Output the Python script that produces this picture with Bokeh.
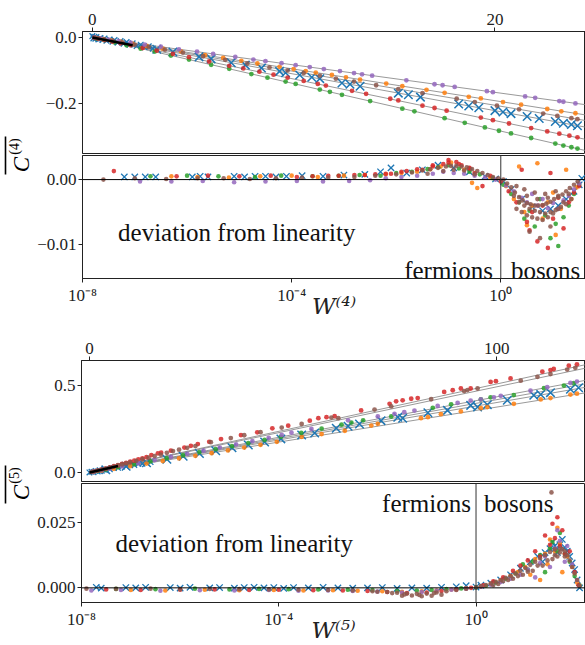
import math
from bokeh.plotting import figure
from bokeh.layouts import column, row
from bokeh.models import Range1d, FixedTicker, CustomJSTickFormatter, Span, Label
from bokeh.embed import file_html
from bokeh.resources import INLINE

FONT = "Liberation Serif"
BLUE, ORANGE, GREEN, RED, PURPLE, BROWN = "#1f77b4", "#ff7f0e", "#2ca02c", "#d62728", "#9467bd", "#8c564b"

# ---------------- chart (4): top, linear W ----------------
W4_BLUE = [3.2, 4.0, 5.3, 5.9, 6.9, 7.6, 8.4, 9.3, 9.6, 10.3, 10.9, 11.3, 12.4, 12.8, 13.3, 15.2, 15.7, 16.3, 18.2, 18.7, 19.2, 20.0, 20.4, 20.8, 21.6, 22.2, 23.0, 23.4, 23.8, 24.1]
C4_BLUE = [-0.036, -0.044, -0.059, -0.065, -0.077, -0.084, -0.093, -0.103, -0.107, -0.114, -0.121, -0.125, -0.138, -0.142, -0.148, -0.169, -0.174, -0.181, -0.202, -0.208, -0.213, -0.222, -0.226, -0.231, -0.240, -0.246, -0.255, -0.260, -0.264, -0.268]
W4_BLUE_S = [0.0, 0.05, 0.1, 0.15, 0.2, 0.3, 0.4, 0.5, 0.6, 0.7, 0.85, 1.0, 1.1, 1.25, 1.4, 1.55, 1.7, 1.85, 2.0, 2.2, 2.4, 2.6, 2.8, 3.0]
C4_BLUE_S = [0.004, -0.003, 0.002, -0.004, 0.001, -0.006, -0.002, -0.008, -0.003, -0.010, -0.006, -0.013, -0.008, -0.016, -0.011, -0.019, -0.014, -0.022, -0.018, -0.026, -0.022, -0.030, -0.027, -0.034]
W4_ORANGE = [0.2, 0.5, 0.9, 1.4, 2.0, 2.7, 3.5, 4.4, 5.6, 6.5, 7.4, 8.2, 9.3, 10.0, 10.6, 11.1, 11.9, 12.6, 13.3, 14.6, 15.4, 16.6, 17.5, 18.7, 19.3, 20.4, 21.3, 22.6, 23.3, 24.0]
C4_ORANGE = [-0.002, -0.005, -0.009, -0.013, -0.019, -0.026, -0.034, -0.042, -0.054, -0.062, -0.071, -0.079, -0.089, -0.096, -0.102, -0.107, -0.114, -0.121, -0.128, -0.140, -0.148, -0.159, -0.168, -0.180, -0.185, -0.196, -0.204, -0.217, -0.224, -0.230]
W4_GREEN = [0.2, 0.6, 1.1, 1.7, 2.4, 3.1, 3.9, 4.8, 5.9, 6.8, 7.9, 8.7, 9.6, 10.1, 11.3, 11.8, 12.4, 13.8, 15.4, 16.0, 17.5, 18.5, 19.5, 20.2, 20.8, 21.8, 23.0, 23.4, 23.8, 24.1]
C4_GREEN = [-0.003, -0.008, -0.015, -0.024, -0.034, -0.043, -0.055, -0.067, -0.083, -0.095, -0.111, -0.122, -0.134, -0.141, -0.158, -0.165, -0.174, -0.193, -0.216, -0.224, -0.245, -0.259, -0.273, -0.283, -0.291, -0.305, -0.322, -0.328, -0.333, -0.337]
W4_RED = [0.1, 0.3, 0.6, 1.0, 1.4, 1.9, 2.5, 3.2, 4.0, 4.8, 5.8, 6.8, 7.5, 8.3, 9.0, 9.7, 10.5, 11.2, 11.6, 12.9, 13.6, 14.8, 15.2, 16.4, 17.0, 17.6, 19.3, 19.9, 20.7, 21.8, 22.6, 23.2, 23.7, 24.1]
C4_RED = [-0.001, -0.004, -0.008, -0.013, -0.018, -0.024, -0.032, -0.040, -0.050, -0.060, -0.073, -0.086, -0.094, -0.104, -0.113, -0.122, -0.132, -0.141, -0.146, -0.162, -0.171, -0.186, -0.191, -0.207, -0.214, -0.222, -0.243, -0.251, -0.261, -0.275, -0.285, -0.292, -0.298, -0.303]
W4_PURPLE = [0.1, 0.4, 0.8, 1.3, 1.9, 2.6, 3.4, 4.3, 5.2, 6.0, 7.1, 8.0, 8.6, 9.4, 10.1, 10.8, 11.5, 12.3, 13.0, 13.4, 13.9, 15.6, 17.0, 17.4, 18.0, 19.6, 19.9, 21.5, 22.0, 23.2, 23.4, 24.0]
C4_PURPLE = [-0.001, -0.003, -0.007, -0.011, -0.016, -0.022, -0.028, -0.036, -0.043, -0.050, -0.059, -0.067, -0.072, -0.078, -0.084, -0.090, -0.096, -0.102, -0.108, -0.112, -0.116, -0.130, -0.142, -0.145, -0.150, -0.163, -0.166, -0.179, -0.183, -0.193, -0.195, -0.200]
W4_BROWN = [0.1, 0.3, 0.6, 1.0, 1.5, 2.1, 2.8, 3.6, 4.5, 5.5, 6.6, 7.7, 8.8, 9.7, 10.5, 11.3, 12.1, 13.0, 14.1, 15.2, 16.4, 18.1, 19.0, 20.1, 21.2, 22.4, 23.1, 23.8, 24.1]
C4_BROWN = [-0.001, -0.003, -0.006, -0.010, -0.015, -0.022, -0.029, -0.037, -0.046, -0.057, -0.068, -0.079, -0.091, -0.100, -0.108, -0.116, -0.125, -0.134, -0.145, -0.157, -0.169, -0.186, -0.196, -0.207, -0.218, -0.231, -0.238, -0.245, -0.248]
FIT4_W = [0.0, 24.5]
FIT4_ENDS = [-0.204, -0.235, -0.252, -0.272, -0.309, -0.343]
BLACK4_W = [0.0, 2.0]
BLACK4_C = [0.0, -0.024]

# ---------------- chart (4): bottom, log10 W and deviation ----------------
E4_BLUE = [-7.2, -7.0, -6.8, -6.6, -5.9, -5.75, -5.6, -5.1, -4.9, -4.7, -4.5, -4.3, -4.1, -3.8, -3.4, -3.0, -2.6, -2.3, -2.1, -1.8, -1.5, -1.2, -0.9, -0.6, -0.3, -0.1, 0.05, 0.2, 0.4, 0.6, 0.8, 0.95, 1.1, 1.25, 1.4, 1.5, 1.55]
D4_BLUE = [0.0004, 0.0004, 0.0004, 0.0004, 0.0004, 0.0005, 0.0004, 0.0005, 0.0004, 0.0005, 0.0005, 0.0004, 0.0005, 0.0006, 0.0005, 0.0007, 0.0008, 0.0012, 0.0018, 0.0010, 0.0015, 0.0022, 0.0018, 0.0012, 0.0005, 0.0001, -0.0003, -0.0015, -0.0030, -0.0042, -0.0048, -0.0045, -0.0040, -0.0030, -0.0018, -0.0008, 0.0002]
E4_ORANGE = [-6.3, -5.8, -5.2, -4.6, -4.0, -3.5, -3.0, -2.6, -2.2, -1.9, -1.6, -1.35, -1.15, -0.95, -0.7, -0.55, -0.45, -0.2, 0.1, 0.25, 0.35, 0.45, 0.5, 0.6, 0.7, 0.8, 0.9, 1.0, 1.05, 1.15, 1.25, 1.35, 1.45]
D4_ORANGE = [0.0005, 0.0004, 0.0003, 0.0005, 0.0006, 0.0004, 0.0006, 0.0007, 0.0008, 0.0010, 0.0012, 0.0016, 0.0020, 0.0026, 0.0015, -0.0005, -0.0013, 0.0003, -0.0010, -0.0030, 0.0020, -0.0050, -0.0070, -0.0040, 0.0025, -0.0060, -0.0035, -0.0020, -0.0085, -0.0045, 0.0015, -0.0030, -0.0012]
E4_GREEN = [-6.7, -6.0, -5.4, -4.7, -4.2, -3.6, -3.1, -2.7, -2.3, -2.0, -1.7, -1.4, -1.2, -1.0, -0.8, -0.6, -0.4, -0.15, 0.05, 0.2, 0.35, 0.45, 0.55, 0.65, 0.75, 0.85, 0.95, 1.05, 1.1, 1.2, 1.3, 1.4, 1.5]
D4_GREEN = [0.0005, 0.0006, 0.0005, 0.0004, 0.0006, 0.0005, 0.0006, 0.0007, 0.0006, 0.0010, 0.0012, 0.0016, 0.0019, 0.0022, 0.0017, 0.0012, 0.0008, 0.0002, -0.0008, -0.0022, -0.0035, -0.0060, -0.0048, -0.0072, -0.0030, -0.0055, -0.0090, -0.0068, -0.0102, -0.0058, -0.0040, -0.0022, -0.0008]
E4_RED = [-7.4, -6.2, -5.6, -5.0, -4.4, -3.9, -3.3, -2.8, -2.4, -2.1, -1.8, -1.5, -1.3, -1.1, -1.0, -0.85, -0.75, -0.6, -0.5, -0.35, -0.2, 0.0, 0.15, 0.3, 0.4, 0.5, 0.55, 0.6, 0.7, 0.8, 0.9, 0.95, 1.0, 1.1, 1.2, 1.3, 1.4, 1.5,
          -3.6, -3.1, -2.6, -2.2, -1.9, -1.6, -1.3, -1.0, -0.8, -0.6]
D4_RED = [0.0013, 0.0005, 0.0006, 0.0005, 0.0006, 0.0004, 0.0006, 0.0007, 0.0008, 0.0009, 0.0013, 0.0015, 0.0020, 0.0024, 0.0030, 0.0027, 0.0022, 0.0018, 0.0010, -0.0010, 0.0006, -0.0003, -0.0018, -0.0035, 0.0015, -0.0065, -0.0078, -0.0050, -0.0095, -0.0040, -0.0105, 0.0010, -0.0060, -0.0028, -0.0075, -0.0035, -0.0020, -0.0010,
          0.0005, 0.0006, 0.0007, 0.0009, 0.0012, 0.0016, 0.0022, 0.0026, 0.0024, 0.0017]
E4_PURPLE = [-6.9, -6.3, -5.7, -5.1, -4.5, -3.9, -3.4, -2.9, -2.5, -2.2, -1.9, -1.6, -1.3, -1.1, -0.9, -0.7, -0.5, -0.3, -0.1, 0.1, 0.25, 0.4, 0.5, 0.6, 0.7, 0.8, 0.9, 1.0, 1.1, 1.2, 1.3, 1.4, 1.5]
D4_PURPLE = [-0.0003, -0.0003, -0.0002, -0.0004, -0.0003, -0.0002, -0.0003, -0.0002, -0.0001, 0.0002, 0.0004, 0.0006, 0.0009, 0.0012, 0.0010, 0.0009, 0.0006, 0.0003, 0.0000, -0.0009, -0.0018, -0.0028, -0.0035, -0.0022, -0.0040, -0.0030, -0.0044, -0.0036, -0.0045, -0.0032, -0.0025, -0.0015, -0.0006]
E4_BROWN = [-7.6, -7.0, -6.4, -5.8, -5.3, -4.8, -4.3, -3.8, -3.3, -2.8, -2.4, -2.0, -1.7, -1.5, -1.35, -1.2, -1.05, -0.95, -0.85, -0.75, -0.65, -0.55, -0.45, -0.35, -0.25, -0.15, -0.05, 0.05, 0.12, 0.2, 0.27, 0.35, 0.42, 0.5, 0.57, 0.65, 0.72, 0.8, 0.87, 0.95, 1.02, 1.1, 1.18, 1.25, 1.32, 1.4, 1.47,
            -1.4, -1.1, -0.9, -0.7, -0.5, 0.3, 0.4, 0.5, 0.6, 0.7, 0.8, 0.9, 1.0, 1.1, 1.2, 0.45, 0.65, 0.85, 1.05, 0.55, 0.75, 0.95,
            0.25, 0.35, 0.45, 0.55, 0.65, 0.75, 0.85, 0.95, 1.05, 1.15, 1.25, 1.35, 0.3, 0.5, 0.7, 0.9, 1.1, 1.3]
D4_BROWN = [0.0000, 0.0002, 0.0001, 0.0002, 0.0002, 0.0001, 0.0002, 0.0003, 0.0003, 0.0004, 0.0006, 0.0008, 0.0011, 0.0014, 0.0016, 0.0018, 0.0020, 0.0021, 0.0021, 0.0020, 0.0019, 0.0016, 0.0013, 0.0010, 0.0007, 0.0004, 0.0002, 0.0000, -0.0006, -0.0012, -0.0020, -0.0027, -0.0032, -0.0036, -0.0038, -0.0040, -0.0040, -0.0039, -0.0037, -0.0034, -0.0030, -0.0027, -0.0023, -0.0018, -0.0013, -0.0008, -0.0003,
            0.0009, 0.0013, 0.0015, 0.0014, 0.0008, -0.0045, -0.0050, -0.0055, -0.0058, -0.0060, -0.0062, -0.0058, -0.0052, -0.0045, -0.0035, -0.0015, -0.0020, -0.0022, -0.0018, -0.0080, -0.0090, -0.0072,
            -0.0025, -0.0035, -0.0040, -0.0045, -0.0048, -0.0050, -0.0052, -0.0050, -0.0047, -0.0042, -0.0038, -0.0030, -0.0010, -0.0025, -0.0030, -0.0028, -0.0025, -0.0022]

# ---------------- chart (5): top, linear W ----------------
W5_BLUE = [4, 9, 14, 19, 23, 27, 31, 35, 39, 43, 47, 52.1, 55.3, 60.6, 63.5, 66.3, 71.6, 75.7, 76.9, 83.1, 87.9, 93.6, 95.3, 97.7, 102.6, 109.1, 110.8, 113.2, 118.1, 120.1]
C5_BLUE = [0.015, 0.036, 0.056, 0.076, 0.093, 0.109, 0.125, 0.142, 0.158, 0.175, 0.193, 0.215, 0.227, 0.254, 0.266, 0.279, 0.298, 0.318, 0.312, 0.343, 0.357, 0.386, 0.376, 0.390, 0.415, 0.444, 0.448, 0.459, 0.479, 0.487]
W5_BLUE_S = [0, 0.5, 1, 1.5, 2, 2.5, 3, 3.5, 4, 5, 6, 7, 8, 9, 10, 11, 12, 13, 14, 15]
C5_BLUE_S = [0.000, 0.004, 0.002, 0.008, 0.006, 0.012, 0.010, 0.016, 0.014, 0.018, 0.026, 0.027, 0.034, 0.035, 0.042, 0.043, 0.050, 0.051, 0.057, 0.060]
W5_ORANGE = [1, 3, 6, 10, 14, 18, 22, 26, 30, 34, 38, 42, 46, 52.1, 57.0, 62.7, 69.2, 70.8, 81.4, 83.1, 86.3, 91.2, 96.1, 97.7, 104.2, 110.8, 113.2, 118.1, 119.7]
C5_ORANGE = [0.003, 0.010, 0.021, 0.036, 0.051, 0.066, 0.081, 0.096, 0.111, 0.127, 0.143, 0.159, 0.176, 0.205, 0.221, 0.240, 0.270, 0.280, 0.312, 0.318, 0.335, 0.351, 0.370, 0.376, 0.395, 0.420, 0.428, 0.448, 0.453]
W5_GREEN = [2, 4, 7, 11, 15, 19, 23, 27, 31, 35, 39, 43, 47, 52, 57, 61.9, 64.3, 67.2, 74.1, 84.3, 88.8, 96.1, 98.5, 104.2, 111.6, 116.5, 118.9]
C5_GREEN = [0.008, 0.017, 0.030, 0.047, 0.064, 0.082, 0.099, 0.117, 0.134, 0.151, 0.169, 0.187, 0.205, 0.228, 0.252, 0.275, 0.287, 0.300, 0.322, 0.372, 0.392, 0.420, 0.432, 0.445, 0.485, 0.500, 0.513]
W5_RED = [1, 2, 3, 4, 5, 6, 7, 8, 9, 10, 11, 12, 13, 14, 15.2, 16.8, 17.6, 20, 23.3, 24.9, 26.6, 29.4, 32.3, 37.2, 41.2, 44.9, 48.8, 54.1, 56.2, 58.2, 60.2, 66.7, 73.7, 75.3, 76.9, 79.0, 80.6, 87.1, 89.2, 91.2, 93.6, 98.5, 99.8, 103.4, 111.2, 113.2, 114.0, 117.7, 119.7]
C5_RED = [0.005, 0.011, 0.016, 0.022, 0.029, 0.036, 0.042, 0.049, 0.055, 0.062, 0.068, 0.075, 0.081, 0.088, 0.100, 0.110, 0.114, 0.125, 0.143, 0.153, 0.163, 0.176, 0.192, 0.215, 0.231, 0.254, 0.269, 0.298, 0.312, 0.318, 0.324, 0.357, 0.395, 0.409, 0.415, 0.424, 0.428, 0.463, 0.473, 0.483, 0.483, 0.521, 0.525, 0.541, 0.580, 0.589, 0.595, 0.614, 0.622]
W5_PURPLE = [1, 3, 5, 8, 12, 16, 20, 24, 28, 32, 36, 40, 44, 47.2, 49.6, 54.5, 63.5, 70.8, 74.9, 77.3, 79.8, 85.5, 90.4, 93.6, 96.1, 99.3, 101.0, 108.3, 112.4, 118.1, 119.7]
C5_PURPLE = [0.004, 0.013, 0.022, 0.035, 0.053, 0.071, 0.089, 0.107, 0.125, 0.143, 0.161, 0.180, 0.199, 0.216, 0.229, 0.250, 0.300, 0.322, 0.337, 0.347, 0.356, 0.383, 0.400, 0.413, 0.420, 0.432, 0.441, 0.470, 0.490, 0.515, 0.523]
W5_BROWN = [0.5, 1, 2, 3, 4, 5, 6, 7, 8, 9, 10, 11.5, 13, 14.5, 16, 17.5, 19, 20.5, 22, 24, 26, 29.8, 34.7, 38, 42, 47.2, 52.1, 59.4, 61.1, 70.0, 74.1, 83.9, 92.0, 92.8, 95.3, 105.9, 110.0, 113.2, 117.3, 119.3]
C5_BROWN = [0.002, 0.005, 0.011, 0.016, 0.022, 0.028, 0.034, 0.040, 0.046, 0.052, 0.058, 0.067, 0.076, 0.085, 0.094, 0.103, 0.113, 0.123, 0.131, 0.142, 0.152, 0.174, 0.198, 0.214, 0.232, 0.258, 0.279, 0.316, 0.312, 0.362, 0.380, 0.421, 0.468, 0.474, 0.483, 0.528, 0.550, 0.566, 0.592, 0.602]
FIT5_W = [0.0, 121.8]
FIT5_ENDS = [0.620, 0.600, 0.530, 0.510, 0.490, 0.458]
BLACK5_W = [0.0, 7.0]
BLACK5_C = [0.0, 0.037]

# ---------------- chart (5): bottom, log10 W and deviation ----------------
E5_BLUE = [-7.7, -7.6, -7.1, -6.9, -6.7, -6.2, -6.0, -5.8, -5.4, -5.2, -4.9, -4.7, -4.5, -4.3, -4.1, -3.9, -3.7, -3.4, -3.1, -2.8, -2.5, -2.2, -1.9, -1.6, -1.3, -1.0, -0.7, -0.4, -0.2, 0.0, 0.1, 0.3, 0.5, 0.7, 0.9, 1.1, 1.25, 1.4, 1.5, 1.6, 1.7, 1.8, 1.9, 2.0, 2.05, 2.1,
           1.35, 1.55, 1.65, 1.75, 1.85, 1.95]
D5_BLUE = [0.0002, -0.0001, 0.0001, 0.0000, 0.0002, 0.0001, -0.0001, 0.0002, 0.0000, 0.0001, -0.0001, 0.0001, 0.0002, 0.0000, 0.0001, -0.0002, 0.0001, 0.0000, 0.0002, 0.0000, -0.0001, 0.0000, 0.0001, -0.0002, 0.0000, -0.0001, 0.0002, 0.0004, 0.0008, 0.0003, 0.0010, 0.0018, 0.0030, 0.0050, 0.0075, 0.0100, 0.0120, 0.0135, 0.0150, 0.0160, 0.0165, 0.0155, 0.0120, 0.0070, 0.0030, 0.0000,
           0.0100, 0.0175, 0.0135, 0.0185, 0.0140, 0.0095]
E5_ORANGE = [-7.0, -6.3, -5.5, -4.8, -4.1, -3.5, -2.9, -2.4, -1.9, -1.5, -1.1, -0.8, -0.5, -0.2, 0.1, 0.3, 0.5, 0.7, 0.85, 1.0, 1.1, 1.2, 1.3, 1.4, 1.45, 1.5, 1.6, 1.65, 1.7, 1.75, 1.85, 1.95, 2.05]
D5_ORANGE = [-0.0008, -0.0010, -0.0007, -0.0009, -0.0008, -0.0010, -0.0009, -0.0011, -0.0013, -0.0015, -0.0013, -0.0010, -0.0006, -0.0002, 0.0006, 0.0015, 0.0028, 0.0045, 0.0060, 0.0080, 0.0050, 0.0110, 0.0030, 0.0130, 0.0090, 0.0185, 0.0140, 0.0230, 0.0170, 0.0060, 0.0120, 0.0080, 0.0020]
E5_GREEN = [-7.3, -6.5, -5.7, -5.0, -4.4, -3.8, -3.2, -2.6, -2.1, -1.6, -1.2, -0.9, -0.6, -0.3, 0.0, 0.2, 0.4, 0.6, 0.8, 0.95, 1.05, 1.15, 1.3, 1.4, 1.5, 1.55, 1.65, 1.7, 1.8, 1.9, 2.0, 2.1]
D5_GREEN = [-0.0004, -0.0005, -0.0003, -0.0006, -0.0004, -0.0005, -0.0006, -0.0007, -0.0008, -0.0012, -0.0010, -0.0008, -0.0005, -0.0002, 0.0001, 0.0008, 0.0020, 0.0035, 0.0055, 0.0090, 0.0070, 0.0100, 0.0125, 0.0060, 0.0150, 0.0175, 0.0140, 0.0210, 0.0130, 0.0100, 0.0045, 0.0010]
E5_RED = [-7.5, -6.8, -6.0, -5.3, -4.6, -4.0, -3.3, -2.7, -2.2, -1.8, -1.4, -1.0, -0.7, -0.4, -0.1, 0.15, 0.35, 0.55, 0.75, 0.9, 1.05, 1.2, 1.3, 1.4, 1.5, 1.55, 1.6, 1.65, 1.7, 1.75, 1.8, 1.9, 2.0, 2.08]
D5_RED = [-0.0006, -0.0008, -0.0007, -0.0006, -0.0008, -0.0007, -0.0009, -0.0010, -0.0012, -0.0016, -0.0020, -0.0018, -0.0012, -0.0006, 0.0000, 0.0010, 0.0025, 0.0040, 0.0065, 0.0085, 0.0105, 0.0140, 0.0120, 0.0200, 0.0165, 0.0245, 0.0190, 0.0270, 0.0160, 0.0220, 0.0130, 0.0140, 0.0060, 0.0010]
E5_PURPLE = [-7.8, -7.2, -6.4, -5.6, -4.9, -4.2, -3.6, -3.0, -2.5, -2.0, -1.5, -1.1, -0.8, -0.5, -0.2, 0.1, 0.3, 0.5, 0.7, 0.9, 1.05, 1.2, 1.3, 1.4, 1.5, 1.6, 1.65, 1.7, 1.8, 1.85, 1.95, 2.05]
D5_PURPLE = [-0.0010, -0.0008, -0.0011, -0.0009, -0.0010, -0.0008, -0.0011, -0.0010, -0.0012, -0.0014, -0.0018, -0.0016, -0.0011, -0.0007, -0.0003, 0.0004, 0.0012, 0.0022, 0.0035, 0.0050, 0.0070, 0.0040, 0.0095, 0.0120, 0.0080, 0.0150, 0.0220, 0.0180, 0.0100, 0.0160, 0.0090, 0.0030]
E5_BROWN = [-7.9, -7.3, -6.6, -6.0, -5.4, -4.8, -4.2, -3.6, -3.0, -2.5, -2.1, -1.8, -1.6, -1.4, -1.2, -1.0, -0.8, -0.6, -0.4, -0.2, 0.0, 0.1, 0.2, 0.3, 0.4, 0.5, 0.6, 0.7, 0.8, 0.9, 1.0, 1.1, 1.2, 1.3, 1.4, 1.5, 1.6, 1.7, 1.75, 1.8, 1.85, 1.9, 1.95, 2.0, 2.05, 2.1,
            0.35, 0.55, 0.75, 0.95, 1.15, 1.35, 1.55, 1.65, -1.5, -1.1, -0.7, -1.3, -0.9, 1.53,
            0.45, 0.65, 0.85, 1.05, 1.25, 1.45, 1.6, 1.7, 1.8, -2.0, -1.7, -1.45, -1.15, -0.85]
D5_BROWN = [-0.0003, -0.0004, -0.0003, -0.0005, -0.0004, -0.0005, -0.0006, -0.0007, -0.0008, -0.0010, -0.0013, -0.0016, -0.0019, -0.0022, -0.0023, -0.0022, -0.0018, -0.0013, -0.0008, -0.0003, 0.0002, 0.0006, 0.0011, 0.0017, 0.0023, 0.0030, 0.0038, 0.0046, 0.0055, 0.0065, 0.0076, 0.0088, 0.0100, 0.0112, 0.0125, 0.0137, 0.0147, 0.0150, 0.0148, 0.0140, 0.0125, 0.0105, 0.0080, 0.0055, 0.0030, 0.0008,
            0.0010, 0.0025, 0.0035, 0.0050, 0.0065, 0.0085, 0.0110, 0.0120, -0.0030, -0.0032, -0.0026, -0.0029, -0.0030, 0.0365,
            0.0015, 0.0030, 0.0045, 0.0062, 0.0085, 0.0105, 0.0125, 0.0135, 0.0120, -0.0015, -0.0020, -0.0025, -0.0027, -0.0020]

# tick labels
TOP4_XTICKS = [0, 20]
TOP4_YTICKS = [0.0, -0.2]
BOT4_YTICKS = [0.0, -0.01]
TOP5_XTICKS = [0, 100]
TOP5_YTICKS = [0.0, 0.5]
BOT5_YTICKS = [0.0, 0.025]
LOG_XTICKS = [1e-8, 1e-4, 1.0]

YLAB_W = 34
PANEL_W = 585 - YLAB_W
LEFT = 45
INK = "#222222"


def pairs(xs, ys):
    n = min(len(xs), len(ys))
    return list(xs[:n]), list(ys[:n])


def unlog(es):
    return [10.0 ** e for e in es]


def style(p):
    p.toolbar_location = None
    p.xgrid.visible = False
    p.ygrid.visible = False
    p.outline_line_color = INK
    p.outline_line_width = 1
    p.background_fill_color = "white"
    p.border_fill_color = "white"
    for ax in p.axis:
        ax.major_label_text_font = FONT
        ax.major_label_text_font_size = "17px"
        ax.major_label_text_color = INK
        ax.major_tick_out = 4
        ax.major_tick_in = 0
        ax.minor_tick_out = 0
        ax.minor_tick_in = 0
        ax.axis_line_color = INK
        ax.major_tick_line_color = INK
        ax.major_label_standoff = 2


def fmt(d):
    return CustomJSTickFormatter(args=dict(d=d), code="return tick.toFixed(d).replace('-', '\u2212');")


LOGFMT = CustomJSTickFormatter(code="""
const m = {'-':'\u207b','0':'\u2070','1':'\u00b9','2':'\u00b2','3':'\u00b3','4':'\u2074','5':'\u2075','6':'\u2076','7':'\u2077','8':'\u2078','9':'\u2079'};
const e = Math.round(Math.log10(tick));
return '10' + String(e).split('').map(c => m[c]).join('');
""")


def dots(p, x, y, color, size=4.8, alpha=0.85):
    x, y = pairs(x, y)
    p.scatter(x, y, marker="circle", size=size, fill_color=color, line_color=None, fill_alpha=alpha)


def crosses(p, x, y, size=12, width=1.5):
    x, y = pairs(x, y)
    p.scatter(x, y, marker="x", size=size, line_color=BLUE, line_width=width)


def top_panel(xr, yr, xticks, yticks, ydig, border_top, frame_h, fit_w, fit_ends, black_w, black_c, series, blue_big, blue_small):
    p = figure(width=PANEL_W, height=border_top + frame_h + 1, x_range=Range1d(*xr), y_range=Range1d(*yr),
               x_axis_location="above", output_backend="svg", toolbar_location=None,
               min_border_left=LEFT, min_border_right=0, min_border_top=border_top, min_border_bottom=1)
    style(p)
    p.xaxis.ticker = FixedTicker(ticks=xticks, minor_ticks=[])
    p.xaxis.formatter = fmt(0)
    p.xaxis.major_label_standoff = 3
    p.yaxis.ticker = FixedTicker(ticks=yticks, minor_ticks=[])
    p.yaxis.formatter = fmt(ydig)
    p.multi_line([list(fit_w) for _ in fit_ends], [[0.0, e] for e in fit_ends], line_color="gray", line_width=1, line_alpha=0.8)
    crosses(p, *blue_small, size=8, width=1.3)
    crosses(p, *blue_big)
    for (x, y, c) in series:
        dots(p, x, y, c)
    p.line(black_w, black_c, line_color="black", line_width=2.5)
    return p


def bottom_panel(xr, yr, yticks, ydig, frame_h, border_bottom, series, blue, xlabel, texts):
    p = figure(width=PANEL_W, height=1 + frame_h + border_bottom, x_axis_type="log", x_range=Range1d(*xr), y_range=Range1d(*yr),
               output_backend="svg", toolbar_location=None,
               min_border_left=LEFT, min_border_right=0, min_border_top=1, min_border_bottom=border_bottom)
    style(p)
    p.xaxis.ticker = FixedTicker(ticks=LOG_XTICKS, minor_ticks=[])
    p.xaxis.formatter = LOGFMT
    p.xaxis.major_label_standoff = 3
    p.yaxis.ticker = FixedTicker(ticks=yticks, minor_ticks=[])
    p.yaxis.formatter = fmt(ydig)
    p.xaxis.axis_label = xlabel
    p.xaxis.axis_label_text_font = "DejaVu Serif"
    p.xaxis.axis_label_text_font_style = "italic"
    p.xaxis.axis_label_text_font_size = "23px"
    p.xaxis.axis_label_text_color = INK
    p.xaxis.axis_label_standoff = -15
    crosses(p, unlog(blue[0]), blue[1], size=9, width=1.3)
    for (e, d, c) in series:
        dots(p, unlog(e), d, c, size=4.6)
    p.add_layout(Span(location=0.0, dimension="width", line_color="black", line_width=1))
    p.add_layout(Span(location=1.0, dimension="height", line_color="#333333", line_width=1))
    for (t, x, y, align) in texts:
        p.add_layout(Label(x=x, y=y, text=t, text_align=align, text_baseline="alphabetic",
                           text_font=FONT, text_font_size="25px", text_color="#111111"))
    return p


def ylabel_fig(height, sup, c_pos, sup_pos, bar_lo, bar_hi):
    p = figure(width=YLAB_W, height=height, x_range=Range1d(0, YLAB_W), y_range=Range1d(0, height),
               x_axis_type=None, y_axis_type=None, output_backend="svg", toolbar_location=None,
               min_border=0)
    p.xgrid.visible = False
    p.ygrid.visible = False
    p.outline_line_color = None
    # main symbol, rotated to read upward
    p.add_layout(Label(x=21, y=c_pos, text="C", angle=math.pi / 2, text_align="center", text_baseline="middle",
                       text_font=FONT, text_font_style="italic", text_font_size="23px", text_color="black"))
    # superscript order, raised (to the left once rotated)
    p.add_layout(Label(x=14, y=sup_pos, text=sup, angle=math.pi / 2, text_align="center", text_baseline="middle",
                       text_font=FONT, text_font_size="14px", text_color="black"))
    # overline
    p.line([5, 5], [bar_lo, bar_hi], line_color="black", line_width=1.6)
    return p


# ---- chart (4)
top4 = top_panel((-0.49, 24.5), (-0.352, 0.018), TOP4_XTICKS, TOP4_YTICKS, 1, 31, 122,
                 FIT4_W, FIT4_ENDS, BLACK4_W, BLACK4_C,
                 [(W4_ORANGE, C4_ORANGE, ORANGE), (W4_GREEN, C4_GREEN, GREEN), (W4_RED, C4_RED, RED),
                  (W4_PURPLE, C4_PURPLE, PURPLE), (W4_BROWN, C4_BROWN, BROWN)],
                 (W4_BLUE, C4_BLUE), (W4_BLUE_S, C4_BLUE_S))
bot4 = bottom_panel((1e-8, 41.7), (-0.0152, 0.0037), BOT4_YTICKS, 2, 123, 57,
                    [(E4_ORANGE, D4_ORANGE, ORANGE), (E4_GREEN, D4_GREEN, GREEN), (E4_RED, D4_RED, RED),
                     (E4_PURPLE, D4_PURPLE, PURPLE), (E4_BROWN, D4_BROWN, BROWN)],
                    (E4_BLUE, D4_BLUE), "W\u207d\u2074\u207e",
                    [("deviation from linearity", 10 ** -7.32, -0.0081, "left"),
                     ("fermions", 0.71, -0.0140, "right"),
                     ("bosons", 1.56, -0.0140, "left")])

# ---- chart (5)
top5 = top_panel((-1.96, 121.8), (-0.052, 0.644), TOP5_XTICKS, TOP5_YTICKS, 1, 25, 121,
                 FIT5_W, FIT5_ENDS, BLACK5_W, BLACK5_C,
                 [(W5_ORANGE, C5_ORANGE, ORANGE), (W5_GREEN, C5_GREEN, GREEN), (W5_RED, C5_RED, RED),
                  (W5_PURPLE, C5_PURPLE, PURPLE), (W5_BROWN, C5_BROWN, BROWN)],
                 (W5_BLUE, C5_BLUE), (W5_BLUE_S, C5_BLUE_S))
bot5 = bottom_panel((1e-8, 166.0), (-0.0056, 0.0399), BOT5_YTICKS, 3, 122, 40,
                    [(E5_ORANGE, D5_ORANGE, ORANGE), (E5_GREEN, D5_GREEN, GREEN), (E5_RED, D5_RED, RED),
                     (E5_PURPLE, D5_PURPLE, PURPLE), (E5_BROWN, D5_BROWN, BROWN)],
                    (E5_BLUE, D5_BLUE), "W\u207d\u2075\u207e",
                    [("deviation from linearity", 10 ** -7.31, 0.0168, "left"),
                     ("fermions", 0.79, 0.0321, "right"),
                     ("bosons", 1.45, 0.0321, "left")])

H4 = (31 + 122 + 1) + (1 + 123 + 57)
H5 = (25 + 121 + 1) + (1 + 122 + 40)
# label positions in pixels from the bottom of each label strip
ylab4 = ylabel_fig(H4, "(4)", H4 - 164, H4 - 146, H4 - 174, H4 - 136)
ylab5 = ylabel_fig(H5, "(5)", H5 - 157, H5 - 140, H5 - 168, H5 - 130)

layout = column(row(ylab4, column(top4, bot4)), row(ylab5, column(top5, bot5)))
open("out.html", "w").write(file_html(layout, INLINE))
